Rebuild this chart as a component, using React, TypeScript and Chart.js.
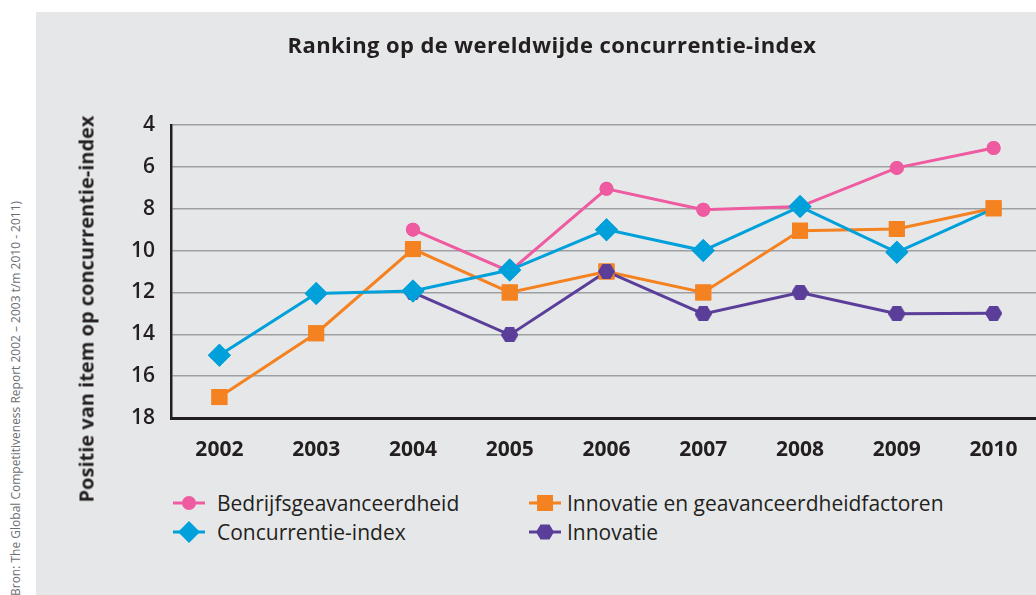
import React, { useEffect, useRef } from "react";
import { Chart, registerables } from "chart.js";

Chart.register(...registerables);

const years = ["2002", "2003", "2004", "2005", "2006", "2007", "2008", "2009", "2010"];
const bedrijfsgeavanceerdheid = [null, null, 9, 11, 7.05, 8.05, 7.9, 6.05, 5.1];
const concurrentieIndex = [15, 12.05, 11.93, 10.93, 9, 10, 7.9, 10.08, 8];
const innovatieFactoren = [17, 13.95, 9.93, 12, 11, 12, 9.05, 8.97, 7.98];
const innovatie = [null, null, 12, 14.03, 11, 13.03, 12, 13.02, 13];

const yMin = 4;
const yMax = 18;
const yStep = 2;

const titleText = "Ranking op de wereldwijde concurrentie-index";
const yTitleText = "Positie van item op concurrentie-index";
const sourceText = "Bron: The Global Competitiveness Report 2002 \u2013 2003 t/m 2010 - 2011)";

const PINK = "#EE5BA1";
const BLUE = "#00A0DB";
const ORANGE = "#F58220";
const PURPLE = "#5A3E99";
const BG = "#E6E7E8";
const TEXT = "#231F20";
const FONT = "'Open Sans', 'DejaVu Sans', sans-serif";

// marker radius per point for the Concurrentie-index series (last marker hidden under the square in the original)
const concurrentieMarkerRadius = [11.5, 11.5, 11.5, 11.5, 11.5, 11.5, 11.5, 11.5, 0];

function makeHexagon(color: string, w: number, h: number): HTMLCanvasElement {
  const c = document.createElement("canvas");
  c.width = w;
  c.height = h;
  const ctx = c.getContext("2d")!;
  ctx.fillStyle = color;
  ctx.beginPath();
  const q = w * 0.27;
  ctx.moveTo(0, h / 2);
  ctx.lineTo(q, 0);
  ctx.lineTo(w - q, 0);
  ctx.lineTo(w, h / 2);
  ctx.lineTo(w - q, h);
  ctx.lineTo(q, h);
  ctx.closePath();
  ctx.fill();
  return c;
}

// draw all markers above all lines, in this dataset order (last on top)
const markerOrder = [0, 2, 3, 1];
const markersOnTop = {
  id: "markersOnTop",
  afterDatasetsDraw(chart: any) {
    const ctx = chart.ctx;
    markerOrder.forEach((i) => {
      const meta = chart.getDatasetMeta(i);
      meta.data.forEach((pt: any) => pt.draw(ctx, chart.chartArea));
    });
  },
};

function LegendMarker({ color, shape }: { color: string; shape: string }) {
  let marker: React.ReactNode = null;
  if (shape === "circle") marker = <circle cx={16} cy={10} r={7} fill={color} />;
  if (shape === "diamond") marker = <polygon points="16,-1 27,10 16,21 5,10" fill={color} />;
  if (shape === "square") marker = <rect x={8} y={2} width={16} height={16} fill={color} />;
  if (shape === "hexagon")
    marker = <polygon points="7,10 11.5,2.5 20.5,2.5 25,10 20.5,17.5 11.5,17.5" fill={color} />;
  return (
    <svg width={32} height={22} viewBox="0 -1 32 22" style={{ overflow: "visible", display: "block" }}>
      <line x1={0} y1={10} x2={32} y2={10} stroke={color} strokeWidth={3} />
      {marker}
    </svg>
  );
}

function LegendItem({ x, y, color, shape, label }: { x: number; y: number; color: string; shape: string; label: string }) {
  return (
    <div style={{ position: "absolute", left: x, top: y - 11, height: 22, display: "flex", alignItems: "center" }}>
      <LegendMarker color={color} shape={shape} />
      <span
        style={{
          marginLeft: shape === "square" || shape === "hexagon" ? 6 : 12,
          fontFamily: FONT,
          fontSize: 21,
          color: TEXT,
          whiteSpace: "nowrap",
          lineHeight: "22px",
        }}
      >
        {label}
      </span>
    </div>
  );
}

export default function App() {
  const canvasRef = useRef<HTMLCanvasElement | null>(null);

  useEffect(() => {
    if (!canvasRef.current) return;
    const hex = makeHexagon(PURPLE, 17, 15);
    const chart = new Chart(canvasRef.current, {
      type: "line",
      data: {
        labels: years,
        datasets: [
          {
            label: "Bedrijfsgeavanceerdheid",
            data: bedrijfsgeavanceerdheid,
            borderColor: PINK,
            backgroundColor: PINK,
            borderWidth: 3,
            pointStyle: "circle",
            pointRadius: 7,
            pointBorderWidth: 0,
            order: 3,
          },
          {
            label: "Concurrentie-index",
            data: concurrentieIndex,
            borderColor: BLUE,
            backgroundColor: BLUE,
            borderWidth: 3,
            pointStyle: "rectRot",
            pointRadius: concurrentieMarkerRadius,
            pointBorderWidth: 0,
            order: 0,
          },
          {
            label: "Innovatie en geavanceerdheidfactoren",
            data: innovatieFactoren,
            borderColor: ORANGE,
            backgroundColor: ORANGE,
            borderWidth: 3,
            pointStyle: "rect",
            pointRadius: 11.3,
            pointBorderWidth: 0,
            order: 2,
          },
          {
            label: "Innovatie",
            data: innovatie,
            borderColor: PURPLE,
            backgroundColor: PURPLE,
            borderWidth: 3,
            pointStyle: hex,
            pointRadius: 8,
            pointBorderWidth: 0,
            order: 1,
          },
        ],
      },
      options: {
        responsive: false,
        animation: false,
        events: [],
        layout: { padding: { top: 113, right: 26, left: 0, bottom: 0 } },
        plugins: {
          legend: { display: false },
          title: { display: false },
          tooltip: { enabled: false },
        },
        scales: {
          x: {
            type: "category",
            offset: true,
            grid: { display: false, drawTicks: false },
            border: { display: true, color: "#231F20", width: 3 },
            ticks: {
              color: TEXT,
              padding: 19,
              font: { family: FONT, size: 21, weight: "bold" },
              maxRotation: 0,
            },
            afterFit: (scale: any) => {
              scale.height = 54;
            },
          },
          y: {
            reverse: true,
            min: yMin,
            max: yMax,
            grid: { color: "#9D9FA2", lineWidth: 1.5, drawTicks: false },
            border: { display: true, color: "#231F20", width: 2.5 },
            ticks: {
              stepSize: yStep,
              color: TEXT,
              padding: 16,
              font: { family: FONT, size: 21, weight: 600 },
            },
            afterFit: (scale: any) => {
              scale.width = 135;
            },
          },
        },
      },
      plugins: [markersOnTop],
    });
    return () => chart.destroy();
  }, []);

  return (
    <div style={{ position: "fixed", left: 0, top: 0, width: 1036, height: 595, overflow: "hidden", background: "#ffffff" }}>
      <div style={{ position: "absolute", left: 36, top: 12, width: 1000, height: 583, background: BG }} />
      <canvas
        ref={canvasRef}
        width={1032}
        height={460}
        style={{ position: "absolute", left: 36, top: 12, width: 1032, height: 460 }}
      />
      <div
        style={{
          position: "absolute",
          left: 552,
          top: 44,
          transform: "translate(-50%, -50%)",
          fontFamily: FONT,
          fontWeight: 700,
          fontSize: 22,
          letterSpacing: 0.4,
          color: TEXT,
          whiteSpace: "nowrap",
        }}
      >
        {titleText}
      </div>
      <div
        style={{
          position: "absolute",
          left: 86,
          top: 309,
          transform: "translate(-50%, -50%) rotate(-90deg)",
          fontFamily: FONT,
          fontWeight: 700,
          fontSize: 20,
          color: TEXT,
          whiteSpace: "nowrap",
        }}
      >
        {yTitleText}
      </div>
      <div
        style={{
          position: "absolute",
          left: 9,
          top: 596,
          transformOrigin: "0 0",
          transform: "rotate(-90deg)",
          fontFamily: FONT,
          fontSize: 12,
          lineHeight: "14px",
          color: "#6D6E71",
          whiteSpace: "nowrap",
        }}
      >
        {sourceText}
      </div>
      <LegendItem x={173} y={503} color={PINK} shape="circle" label="Bedrijfsgeavanceerdheid" />
      <LegendItem x={173} y={532} color={BLUE} shape="diamond" label="Concurrentie-index" />
      <LegendItem x={529} y={503} color={ORANGE} shape="square" label="Innovatie en geavanceerdheidfactoren" />
      <LegendItem x={529} y={532} color={PURPLE} shape="hexagon" label="Innovatie" />
    </div>
  );
}
